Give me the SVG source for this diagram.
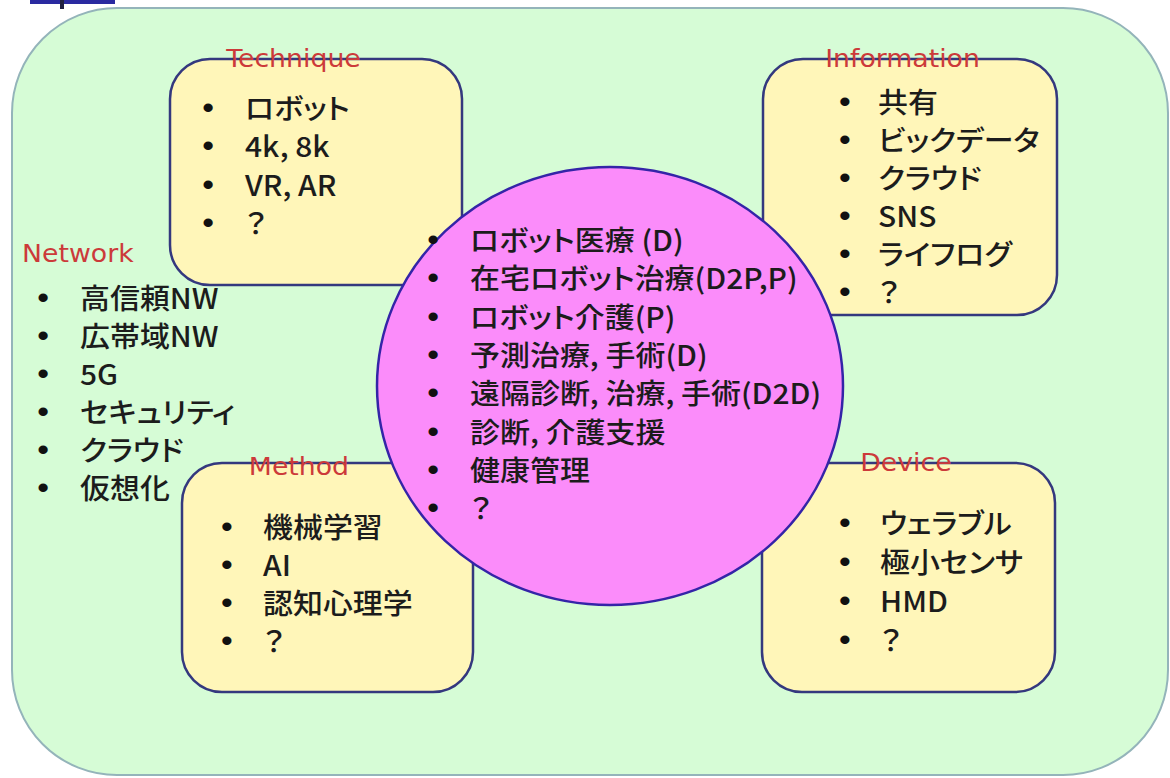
<svg xmlns="http://www.w3.org/2000/svg" width="1170" height="778" viewBox="0 0 1170 778">
<style>
.box{fill:#fff6b9;stroke:#34387e;stroke-width:2.5}
.lbl{font-family:"DejaVu Sans",Verdana,sans-serif;font-size:25px;fill:#cc3a3a;text-anchor:middle}
.it{font-family:"Noto Sans CJK JP","Noto Sans",sans-serif;font-size:28px;font-weight:500;fill:#1c1c1c;font-feature-settings:"palt"}
.bu{font-family:"Liberation Sans",Arial,sans-serif;font-size:30px;font-weight:bold;fill:#111;text-anchor:middle}
</style>
<rect width="1170" height="778" fill="#ffffff"/>
<rect x="30" y="0" width="85" height="4" fill="#2a2aa0"/>
<rect x="60" y="0" width="4" height="9" fill="#202040"/>
<g id="network">
<rect x="12" y="8" width="1156" height="767" rx="105" ry="105" fill="#d6fcd6" stroke="#94b4ba" stroke-width="2"/>
<g transform="scale(1.07,1)">
<text class="lbl" x="20.6" y="262" style="text-anchor:start">Network</text>
<text class="bu" x="40.2" y="308">•</text><text class="it" x="74.8" y="309">高信頼NW</text>
<text class="bu" x="40.2" y="346">•</text><text class="it" x="74.8" y="347">広帯域NW</text>
<text class="bu" x="40.2" y="384">•</text><text class="it" x="74.8" y="385">5G</text>
<text class="bu" x="40.2" y="422">•</text><text class="it" x="74.8" y="423">セキュリティ</text>
<text class="bu" x="40.2" y="460">•</text><text class="it" x="74.8" y="461">クラウド</text>
<text class="bu" x="40.2" y="498">•</text><text class="it" x="74.8" y="499">仮想化</text>
</g>
</g>
<g id="technique">
<rect class="box" x="170" y="59" width="292" height="226" rx="40"/>
<g transform="scale(1.07,1)">
<text class="lbl" x="274.3" y="67">Technique</text>
<text class="bu" x="194.4" y="118">•</text><text class="it" x="229" y="119">ロボット</text>
<text class="bu" x="194.4" y="156">•</text><text class="it" x="229" y="157">4k, 8k</text>
<text class="bu" x="194.4" y="195">•</text><text class="it" x="229" y="196">VR, AR</text>
<text class="bu" x="194.4" y="233">•</text><text class="it" x="229" y="234">？</text>
</g>
</g>
<g id="information">
<rect class="box" x="763" y="59" width="294" height="256" rx="40"/>
<g transform="scale(1.07,1)">
<text class="lbl" x="843.5" y="67">Information</text>
<text class="bu" x="789.7" y="112">•</text><text class="it" x="820.6" y="113">共有</text>
<text class="bu" x="789.7" y="150">•</text><text class="it" x="820.6" y="151">ビックデータ</text>
<text class="bu" x="789.7" y="188">•</text><text class="it" x="820.6" y="189">クラウド</text>
<text class="bu" x="789.7" y="226">•</text><text class="it" x="820.6" y="227">SNS</text>
<text class="bu" x="789.7" y="264">•</text><text class="it" x="820.6" y="265">ライフログ</text>
<text class="bu" x="789.7" y="302">•</text><text class="it" x="820.6" y="303">？</text>
</g>
</g>
<g id="method">
<rect class="box" x="182" y="463" width="291" height="229" rx="40"/>
<g transform="scale(1.07,1)">
<text class="lbl" x="279.4" y="475">Method</text>
<text class="bu" x="212.1" y="537">•</text><text class="it" x="245.8" y="538">機械学習</text>
<text class="bu" x="212.1" y="575">•</text><text class="it" x="245.8" y="576">AI</text>
<text class="bu" x="212.1" y="613">•</text><text class="it" x="245.8" y="614">認知心理学</text>
<text class="bu" x="212.1" y="651">•</text><text class="it" x="245.8" y="652">？</text>
</g>
</g>
<g id="device">
<rect class="box" x="762" y="463" width="293" height="229" rx="40"/>
<g transform="scale(1.07,1)">
<text class="lbl" x="846.7" y="471">Device</text>
<text class="bu" x="789.7" y="533">•</text><text class="it" x="822.4" y="534">ウェラブル</text>
<text class="bu" x="789.7" y="572">•</text><text class="it" x="822.4" y="573">極小センサ</text>
<text class="bu" x="789.7" y="611">•</text><text class="it" x="822.4" y="612">HMD</text>
<text class="bu" x="789.7" y="650">•</text><text class="it" x="822.4" y="651">？</text>
</g>
</g>
<g id="center">
<ellipse cx="610" cy="386" rx="233" ry="219" fill="#fb8cfa" stroke="#3424a8" stroke-width="2.5"/>
<g transform="scale(1.07,1)">
<text class="bu" x="404.7" y="250">•</text><text class="it" x="439.3" y="251">ロボット医療 (D)</text>
<text class="bu" x="404.7" y="288">•</text><text class="it" x="439.3" y="289">在宅ロボット治療(D2P,P)</text>
<text class="bu" x="404.7" y="327">•</text><text class="it" x="439.3" y="328">ロボット介護(P)</text>
<text class="bu" x="404.7" y="365">•</text><text class="it" x="439.3" y="366">予測治療, 手術(D)</text>
<text class="bu" x="404.7" y="403">•</text><text class="it" x="439.3" y="404">遠隔診断, 治療, 手術(D2D)</text>
<text class="bu" x="404.7" y="442">•</text><text class="it" x="439.3" y="443">診断, 介護支援</text>
<text class="bu" x="404.7" y="480">•</text><text class="it" x="439.3" y="481">健康管理</text>
<text class="bu" x="404.7" y="518">•</text><text class="it" x="439.3" y="519">？</text>
</g>
</g>
<g id="connectors"></g>
</svg>
